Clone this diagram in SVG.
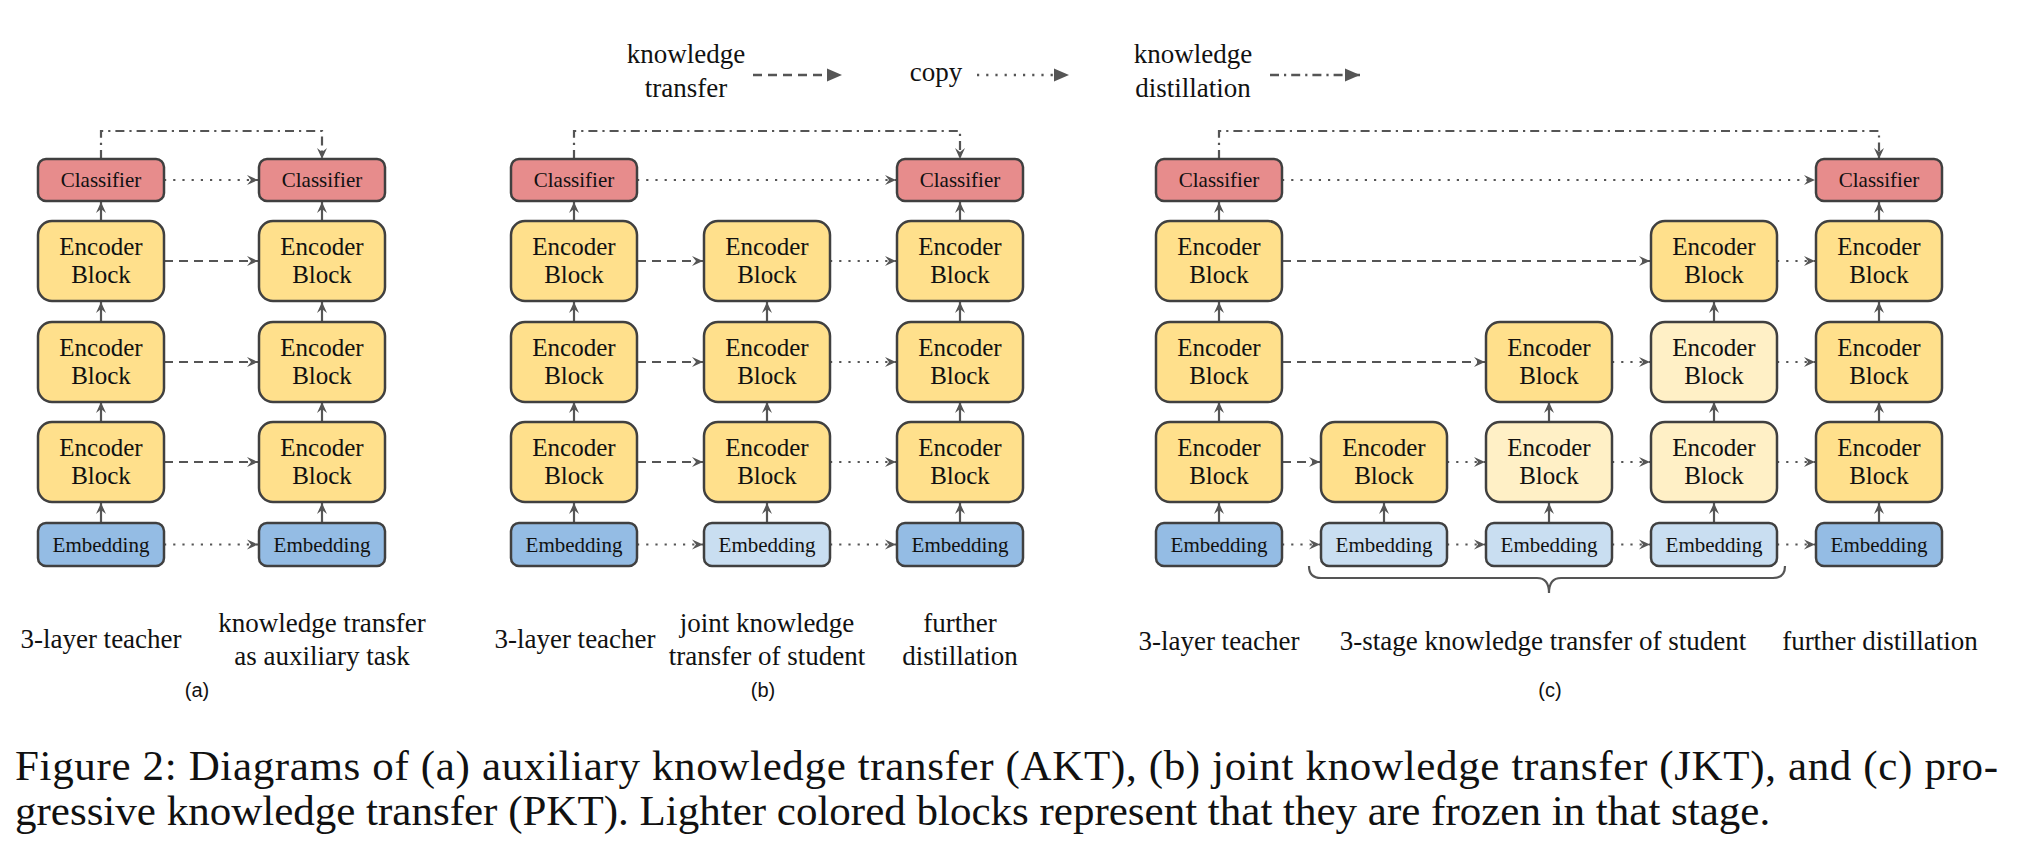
<svg xmlns="http://www.w3.org/2000/svg" width="2024" height="862" viewBox="0 0 2024 862">
<defs>
<style>
.cls{fill:#E78C8C;stroke:#404040;stroke-width:2.5}
.enc{fill:#FFE08C;stroke:#404040;stroke-width:2.5}
.encl{fill:#FFF0C6;stroke:#404040;stroke-width:2.5}
.emb{fill:#94BCE4;stroke:#404040;stroke-width:2.5}
.embl{fill:#C9DEF1;stroke:#404040;stroke-width:2.5}
.t21{font-family:'Liberation Serif','Times New Roman',serif;font-size:21px;fill:#111;text-anchor:middle}
.t24{font-family:'Liberation Serif','Times New Roman',serif;font-size:25px;fill:#111;text-anchor:middle}
.lab{font-family:'Liberation Serif','Times New Roman',serif;font-size:27px;fill:#111;text-anchor:middle}
.sub{font-family:'Liberation Sans',Arial,sans-serif;font-size:20px;fill:#111;text-anchor:middle}
.cap{font-family:'Liberation Serif','Times New Roman',serif;font-size:43px;fill:#111}
.c{fill:none;stroke:#555;stroke-width:2.2}
.solid{marker-end:url(#ah)}
.dash{stroke-dasharray:9 6;marker-end:url(#ah)}
.dot{stroke-dasharray:2.2 7;marker-end:url(#ah)}
.dd{stroke-dasharray:9 5 2.2 5;marker-end:url(#ah)}
.lg{fill:none;stroke:#555;stroke-width:2.5;marker-end:url(#lh)}
</style>
<marker id="ah" markerUnits="userSpaceOnUse" markerWidth="14" markerHeight="12" viewBox="-12 -6 14 12" refX="0" refY="0" orient="auto" overflow="visible">
<path d="M0,0 L-11,-5 L-7,0 L-11,5 Z" fill="#555"/>
</marker>
<marker id="lh" markerUnits="userSpaceOnUse" markerWidth="16" markerHeight="14" viewBox="-15 -7 16 14" refX="0" refY="0" orient="auto" overflow="visible">
<path d="M0,0 L-15,-6.5 L-15,6.5 Z" fill="#555"/>
</marker>
</defs>
<rect width="2024" height="862" fill="#fff"/>

<!-- legend -->
<g id="legend">
<text class="lab" x="686" y="63">knowledge</text>
<text class="lab" x="686" y="97">transfer</text>
<path class="lg" d="M753,75 H842" stroke-dasharray="9 6"/>
<text class="lab" x="936" y="81">copy</text>
<path class="lg" d="M977,75 H1069" stroke-dasharray="2.2 7"/>
<text class="lab" x="1193" y="63">knowledge</text>
<text class="lab" x="1193" y="97">distillation</text>
<path class="lg" d="M1270,75 H1360" stroke-dasharray="9 5 2.2 5"/>
</g>

<!-- connectors -->
<g id="connectors">
<!-- panel a -->
<path class="c dd" d="M101,159 V131 H322 V159"/>
<path class="c solid" d="M101,523 V503"/>
<path class="c solid" d="M101,422 V402"/>
<path class="c solid" d="M101,322 V302"/>
<path class="c solid" d="M101,221 V202"/>
<path class="c solid" d="M322,523 V503"/>
<path class="c solid" d="M322,422 V402"/>
<path class="c solid" d="M322,322 V302"/>
<path class="c solid" d="M322,221 V202"/>
<path class="c dot" d="M164,180 H258"/>
<path class="c dash" d="M164,261 H258"/>
<path class="c dash" d="M164,362 H258"/>
<path class="c dash" d="M164,462 H258"/>
<path class="c dot" d="M164,544.5 H258"/>
<!-- panel b -->
<path class="c dd" d="M574,159 V131 H960 V159"/>
<path class="c solid" d="M574,523 V503"/>
<path class="c solid" d="M574,422 V402"/>
<path class="c solid" d="M574,322 V302"/>
<path class="c solid" d="M574,221 V202"/>
<path class="c solid" d="M767,523 V503"/>
<path class="c solid" d="M767,422 V402"/>
<path class="c solid" d="M767,322 V302"/>
<path class="c solid" d="M960,523 V503"/>
<path class="c solid" d="M960,422 V402"/>
<path class="c solid" d="M960,322 V302"/>
<path class="c solid" d="M960,221 V202"/>
<path class="c dot" d="M637,180 H896"/>
<path class="c dash" d="M637,261 H703"/>
<path class="c dash" d="M637,362 H703"/>
<path class="c dash" d="M637,462 H703"/>
<path class="c dot" d="M637,544.5 H703"/>
<path class="c dot" d="M830,261 H896"/>
<path class="c dot" d="M830,362 H896"/>
<path class="c dot" d="M830,462 H896"/>
<path class="c dot" d="M830,544.5 H896"/>
<!-- panel c -->
<path class="c dd" d="M1219,159 V131 H1879 V159"/>
<path class="c solid" d="M1219,523 V503"/>
<path class="c solid" d="M1219,422 V402"/>
<path class="c solid" d="M1219,322 V302"/>
<path class="c solid" d="M1219,221 V202"/>
<path class="c solid" d="M1384,523 V503"/>
<path class="c solid" d="M1549,523 V503"/>
<path class="c solid" d="M1549,422 V402"/>
<path class="c solid" d="M1714,523 V503"/>
<path class="c solid" d="M1714,422 V402"/>
<path class="c solid" d="M1714,322 V302"/>
<path class="c solid" d="M1879,523 V503"/>
<path class="c solid" d="M1879,422 V402"/>
<path class="c solid" d="M1879,322 V302"/>
<path class="c solid" d="M1879,221 V202"/>
<path class="c dot" d="M1282,180 H1815"/>
<path class="c dash" d="M1282,261 H1650"/>
<path class="c dot" d="M1777,261 H1815"/>
<path class="c dash" d="M1282,362 H1485"/>
<path class="c dot" d="M1612,362 H1650"/>
<path class="c dot" d="M1777,362 H1815"/>
<path class="c dash" d="M1282,462 H1320"/>
<path class="c dot" d="M1447,462 H1485"/>
<path class="c dot" d="M1612,462 H1650"/>
<path class="c dot" d="M1777,462 H1815"/>
<path class="c dot" d="M1282,544.5 H1320"/>
<path class="c dot" d="M1447,544.5 H1485"/>
<path class="c dot" d="M1612,544.5 H1650"/>
<path class="c dot" d="M1777,544.5 H1815"/>
<path class="c" d="M1309,566 Q1309,578 1321,578 H1537 Q1549,578 1549,593 Q1549,578 1561,578 H1773 Q1785,578 1785,566"/>
</g>

<!-- panel a nodes -->
<g id="a-teacher-cls"><rect class="cls" x="38" y="159" width="126" height="42" rx="8"/><text class="t21" x="101" y="187">Classifier</text></g>
<g id="a-teacher-e1"><rect class="enc" x="38" y="221" width="126" height="80" rx="14"/><text class="t24" x="101" y="255">Encoder</text><text class="t24" x="101" y="283">Block</text></g>
<g id="a-teacher-e2"><rect class="enc" x="38" y="322" width="126" height="80" rx="14"/><text class="t24" x="101" y="356">Encoder</text><text class="t24" x="101" y="384">Block</text></g>
<g id="a-teacher-e3"><rect class="enc" x="38" y="422" width="126" height="80" rx="14"/><text class="t24" x="101" y="456">Encoder</text><text class="t24" x="101" y="484">Block</text></g>
<g id="a-teacher-emb"><rect class="emb" x="38" y="523" width="126" height="43" rx="8"/><text class="t21" x="101" y="552">Embedding</text></g>
<g id="a-student-cls"><rect class="cls" x="259" y="159" width="126" height="42" rx="8"/><text class="t21" x="322" y="187">Classifier</text></g>
<g id="a-student-e1"><rect class="enc" x="259" y="221" width="126" height="80" rx="14"/><text class="t24" x="322" y="255">Encoder</text><text class="t24" x="322" y="283">Block</text></g>
<g id="a-student-e2"><rect class="enc" x="259" y="322" width="126" height="80" rx="14"/><text class="t24" x="322" y="356">Encoder</text><text class="t24" x="322" y="384">Block</text></g>
<g id="a-student-e3"><rect class="enc" x="259" y="422" width="126" height="80" rx="14"/><text class="t24" x="322" y="456">Encoder</text><text class="t24" x="322" y="484">Block</text></g>
<g id="a-student-emb"><rect class="emb" x="259" y="523" width="126" height="43" rx="8"/><text class="t21" x="322" y="552">Embedding</text></g>

<!-- panel b nodes -->
<g id="b-teacher-cls"><rect class="cls" x="511" y="159" width="126" height="42" rx="8"/><text class="t21" x="574" y="187">Classifier</text></g>
<g id="b-teacher-e1"><rect class="enc" x="511" y="221" width="126" height="80" rx="14"/><text class="t24" x="574" y="255">Encoder</text><text class="t24" x="574" y="283">Block</text></g>
<g id="b-teacher-e2"><rect class="enc" x="511" y="322" width="126" height="80" rx="14"/><text class="t24" x="574" y="356">Encoder</text><text class="t24" x="574" y="384">Block</text></g>
<g id="b-teacher-e3"><rect class="enc" x="511" y="422" width="126" height="80" rx="14"/><text class="t24" x="574" y="456">Encoder</text><text class="t24" x="574" y="484">Block</text></g>
<g id="b-teacher-emb"><rect class="emb" x="511" y="523" width="126" height="43" rx="8"/><text class="t21" x="574" y="552">Embedding</text></g>
<g id="b-joint-e1"><rect class="enc" x="704" y="221" width="126" height="80" rx="14"/><text class="t24" x="767" y="255">Encoder</text><text class="t24" x="767" y="283">Block</text></g>
<g id="b-joint-e2"><rect class="enc" x="704" y="322" width="126" height="80" rx="14"/><text class="t24" x="767" y="356">Encoder</text><text class="t24" x="767" y="384">Block</text></g>
<g id="b-joint-e3"><rect class="enc" x="704" y="422" width="126" height="80" rx="14"/><text class="t24" x="767" y="456">Encoder</text><text class="t24" x="767" y="484">Block</text></g>
<g id="b-joint-emb"><rect class="embl" x="704" y="523" width="126" height="43" rx="8"/><text class="t21" x="767" y="552">Embedding</text></g>
<g id="b-further-cls"><rect class="cls" x="897" y="159" width="126" height="42" rx="8"/><text class="t21" x="960" y="187">Classifier</text></g>
<g id="b-further-e1"><rect class="enc" x="897" y="221" width="126" height="80" rx="14"/><text class="t24" x="960" y="255">Encoder</text><text class="t24" x="960" y="283">Block</text></g>
<g id="b-further-e2"><rect class="enc" x="897" y="322" width="126" height="80" rx="14"/><text class="t24" x="960" y="356">Encoder</text><text class="t24" x="960" y="384">Block</text></g>
<g id="b-further-e3"><rect class="enc" x="897" y="422" width="126" height="80" rx="14"/><text class="t24" x="960" y="456">Encoder</text><text class="t24" x="960" y="484">Block</text></g>
<g id="b-further-emb"><rect class="emb" x="897" y="523" width="126" height="43" rx="8"/><text class="t21" x="960" y="552">Embedding</text></g>

<!-- panel c nodes -->
<g id="c-teacher-cls"><rect class="cls" x="1156" y="159" width="126" height="42" rx="8"/><text class="t21" x="1219" y="187">Classifier</text></g>
<g id="c-teacher-e1"><rect class="enc" x="1156" y="221" width="126" height="80" rx="14"/><text class="t24" x="1219" y="255">Encoder</text><text class="t24" x="1219" y="283">Block</text></g>
<g id="c-teacher-e2"><rect class="enc" x="1156" y="322" width="126" height="80" rx="14"/><text class="t24" x="1219" y="356">Encoder</text><text class="t24" x="1219" y="384">Block</text></g>
<g id="c-teacher-e3"><rect class="enc" x="1156" y="422" width="126" height="80" rx="14"/><text class="t24" x="1219" y="456">Encoder</text><text class="t24" x="1219" y="484">Block</text></g>
<g id="c-teacher-emb"><rect class="emb" x="1156" y="523" width="126" height="43" rx="8"/><text class="t21" x="1219" y="552">Embedding</text></g>

<g id="c-s1-e3"><rect class="enc" x="1321" y="422" width="126" height="80" rx="14"/><text class="t24" x="1384" y="456">Encoder</text><text class="t24" x="1384" y="484">Block</text></g>
<g id="c-s1-emb"><rect class="embl" x="1321" y="523" width="126" height="43" rx="8"/><text class="t21" x="1384" y="552">Embedding</text></g>

<g id="c-s2-e2"><rect class="enc" x="1486" y="322" width="126" height="80" rx="14"/><text class="t24" x="1549" y="356">Encoder</text><text class="t24" x="1549" y="384">Block</text></g>
<g id="c-s2-e3"><rect class="encl" x="1486" y="422" width="126" height="80" rx="14"/><text class="t24" x="1549" y="456">Encoder</text><text class="t24" x="1549" y="484">Block</text></g>
<g id="c-s2-emb"><rect class="embl" x="1486" y="523" width="126" height="43" rx="8"/><text class="t21" x="1549" y="552">Embedding</text></g>

<g id="c-s3-e1"><rect class="enc" x="1651" y="221" width="126" height="80" rx="14"/><text class="t24" x="1714" y="255">Encoder</text><text class="t24" x="1714" y="283">Block</text></g>
<g id="c-s3-e2"><rect class="encl" x="1651" y="322" width="126" height="80" rx="14"/><text class="t24" x="1714" y="356">Encoder</text><text class="t24" x="1714" y="384">Block</text></g>
<g id="c-s3-e3"><rect class="encl" x="1651" y="422" width="126" height="80" rx="14"/><text class="t24" x="1714" y="456">Encoder</text><text class="t24" x="1714" y="484">Block</text></g>
<g id="c-s3-emb"><rect class="embl" x="1651" y="523" width="126" height="43" rx="8"/><text class="t21" x="1714" y="552">Embedding</text></g>

<g id="c-further-cls"><rect class="cls" x="1816" y="159" width="126" height="42" rx="8"/><text class="t21" x="1879" y="187">Classifier</text></g>
<g id="c-further-e1"><rect class="enc" x="1816" y="221" width="126" height="80" rx="14"/><text class="t24" x="1879" y="255">Encoder</text><text class="t24" x="1879" y="283">Block</text></g>
<g id="c-further-e2"><rect class="enc" x="1816" y="322" width="126" height="80" rx="14"/><text class="t24" x="1879" y="356">Encoder</text><text class="t24" x="1879" y="384">Block</text></g>
<g id="c-further-e3"><rect class="enc" x="1816" y="422" width="126" height="80" rx="14"/><text class="t24" x="1879" y="456">Encoder</text><text class="t24" x="1879" y="484">Block</text></g>
<g id="c-further-emb"><rect class="emb" x="1816" y="523" width="126" height="43" rx="8"/><text class="t21" x="1879" y="552">Embedding</text></g>

<!-- labels -->
<g id="labels">
<text class="lab" x="101" y="648">3-layer teacher</text>
<text class="lab" x="322" y="632">knowledge transfer</text>
<text class="lab" x="322" y="665">as auxiliary task</text>
<text class="sub" x="197" y="697">(a)</text>
<text class="lab" x="575" y="648">3-layer teacher</text>
<text class="lab" x="767" y="632">joint knowledge</text>
<text class="lab" x="767" y="665">transfer of student</text>
<text class="lab" x="960" y="632">further</text>
<text class="lab" x="960" y="665">distillation</text>
<text class="sub" x="763" y="697">(b)</text>
<text class="lab" x="1219" y="650">3-layer teacher</text>
<text class="lab" x="1543" y="650">3-stage knowledge transfer of student</text>
<text class="lab" x="1880" y="650">further distillation</text>
<text class="sub" x="1550" y="697">(c)</text>
</g>

<g id="caption">
<text class="cap" x="15" y="780" textLength="1983" lengthAdjust="spacing">Figure 2:  Diagrams of (a) auxiliary knowledge transfer (AKT), (b) joint knowledge transfer (JKT), and (c) pro-</text>
<text class="cap" x="15" y="825">gressive knowledge transfer (PKT). Lighter colored blocks represent that they are frozen in that stage.</text>
</g>
</svg>
